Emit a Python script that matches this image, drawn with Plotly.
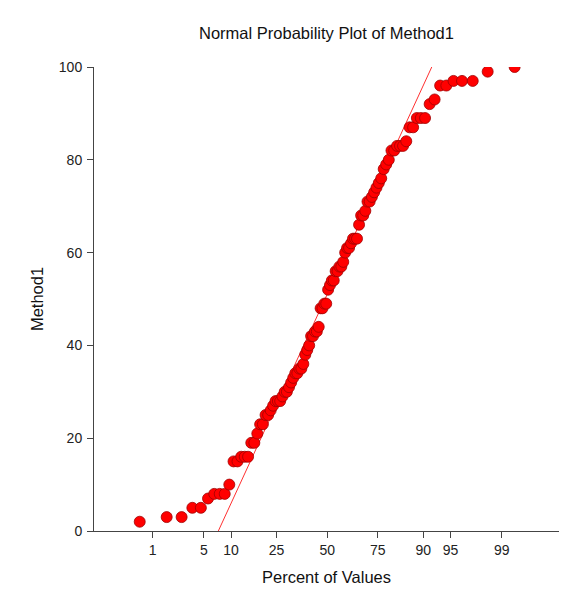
import plotly.graph_objects as go
from statistics import NormalDist

# Sorted sample values of Method1 (n = 100)
method1_values = [
    2, 3, 3, 5, 5, 7, 8, 8, 8, 10,
    15, 15, 16, 16, 16, 19, 19, 21, 23, 23,
    25, 25, 26, 27, 28, 28, 28, 29, 30, 30,
    31, 32, 33, 34, 34, 35, 35, 36, 38, 39,
    40, 42, 42, 43, 43, 44, 48, 48, 49, 49,
    52, 53, 54, 54, 56, 56, 57, 57, 58, 60,
    61, 61, 62, 63, 63, 63, 66, 68, 68, 69,
    71, 71, 72, 73, 74, 75, 76, 78, 79, 80,
    82, 82, 83, 83, 83, 84, 87, 87, 89, 89,
    89, 92, 93, 96, 96, 97, 97, 97, 99, 100,
]

# Percent tick labels on the normal probability axis
tick_percents = [1, 5, 10, 25, 50, 75, 90, 95, 99]
tick_labels = ["1", "5", "10", "25", "50", "75", "90", "95", "99"]

# Reference line: value = line_center + line_scale * z
line_center = 51.0
line_scale = 35.15
line_value_span = [0, 100]

nd = NormalDist()
n = len(method1_values)
ys = sorted(method1_values)
zs = [nd.inv_cdf((i + 1 - 0.375) / (n + 0.25)) for i in range(n)]
tick_z = [nd.inv_cdf(p / 100.0) for p in tick_percents]
line_z = [(v - line_center) / line_scale for v in line_value_span]

fig = go.Figure()
fig.add_trace(go.Scatter(
    x=line_z, y=line_value_span, mode="lines",
    line=dict(color="#ff3030", width=1), hoverinfo="skip", showlegend=False,
))
fig.add_trace(go.Scatter(
    x=zs, y=ys, mode="markers",
    marker=dict(size=11, color="#ff0000", line=dict(color="#a00000", width=0.8)),
    showlegend=False,
))

font_family = "Liberation Sans, Arial, sans-serif"
fig.update_layout(
    width=571, height=595,
    margin=dict(l=86, r=20, t=59, b=72),
    paper_bgcolor="white", plot_bgcolor="white",
    font=dict(family=font_family, size=14, color="#222222"),
    title=dict(text="Normal Probability Plot of Method1", x=0.5, xref="paper",
               y=1 - 25 / 595, yref="container", yanchor="middle",
               font=dict(size=16.5, color="#111111")),
    xaxis=dict(range=[-3.108, 3.09], tickmode="array", tickvals=tick_z, ticktext=tick_labels,
               showgrid=False, zeroline=False, showline=True, linecolor="#444444", linewidth=1,
               ticks="outside", ticklen=6, tickcolor="#444444",
               title=dict(text="Percent of Values", standoff=14, font=dict(size=16.5, color="#111111"))),
    yaxis=dict(range=[0, 100], tickvals=[0, 20, 40, 60, 80, 100],
               showgrid=False, zeroline=False, showline=True, linecolor="#444444", linewidth=1,
               ticks="outside", ticklen=6, tickcolor="#444444", ticklabelstandoff=2,
               title=dict(text="Method1", standoff=11, font=dict(size=16.5, color="#111111"))),
)

fig.write_html("out.html")
